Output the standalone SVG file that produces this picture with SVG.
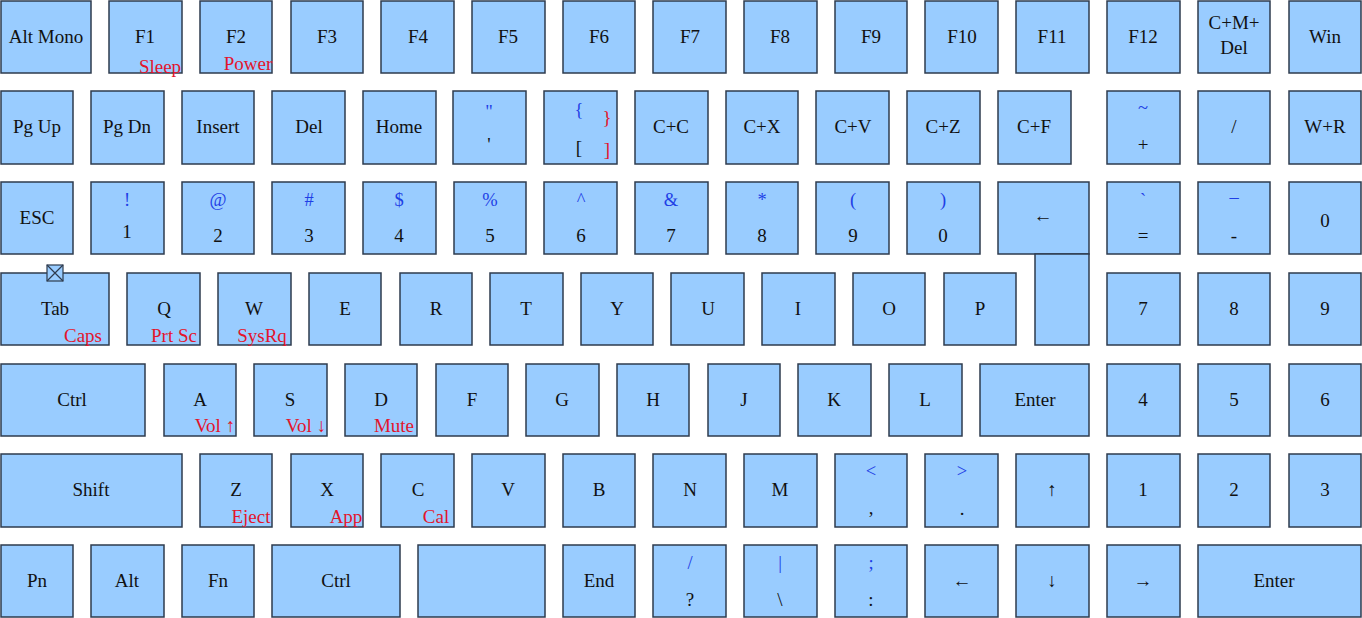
<svg xmlns="http://www.w3.org/2000/svg" width="1362" height="618" viewBox="0 0 1362 618">
<style>
.k{fill:#99ccff;stroke:#2e3b4e;stroke-width:1.5}
text{font-family:"Liberation Serif","Times New Roman",serif;text-anchor:middle}
.m{font-size:19px;fill:#111}
.b{font-size:18.5px;fill:#1f3fe6}
.r{font-size:19px;fill:#e3142c}
.ic{fill:#99ccff;stroke:#2e3b4e;stroke-width:1.2}
</style>
<rect width="1362" height="618" fill="#ffffff"/>
<!-- Row 1 -->
<g id="k-altmono"><rect class="k" x="1" y="1" width="90" height="72"/><text class="m" x="46" y="43">Alt Mono</text></g>
<g id="k-f1"><rect class="k" x="109" y="1" width="73" height="72"/><text class="m" x="145" y="43">F1</text><text class="r" x="160" y="73">Sleep</text></g>
<g id="k-f2"><rect class="k" x="200" y="1" width="72" height="72"/><text class="m" x="236" y="43">F2</text><text class="r" x="248" y="70">Power</text></g>
<g id="k-f3"><rect class="k" x="291" y="1" width="72" height="72"/><text class="m" x="327" y="43">F3</text></g>
<g id="k-f4"><rect class="k" x="381" y="1" width="73" height="72"/><text class="m" x="418" y="43">F4</text></g>
<g id="k-f5"><rect class="k" x="472" y="1" width="73" height="72"/><text class="m" x="508" y="43">F5</text></g>
<g id="k-f6"><rect class="k" x="563" y="1" width="72" height="72"/><text class="m" x="599" y="43">F6</text></g>
<g id="k-f7"><rect class="k" x="653" y="1" width="73" height="72"/><text class="m" x="690" y="43">F7</text></g>
<g id="k-f8"><rect class="k" x="744" y="1" width="73" height="72"/><text class="m" x="780" y="43">F8</text></g>
<g id="k-f9"><rect class="k" x="835" y="1" width="72" height="72"/><text class="m" x="871" y="43">F9</text></g>
<g id="k-f10"><rect class="k" x="925" y="1" width="73" height="72"/><text class="m" x="962" y="43">F10</text></g>
<g id="k-f11"><rect class="k" x="1016" y="1" width="73" height="72"/><text class="m" x="1052" y="43">F11</text></g>
<g id="k-f12"><rect class="k" x="1107" y="1" width="73" height="72"/><text class="m" x="1143" y="43">F12</text></g>
<g id="k-cmd"><rect class="k" x="1198" y="1" width="72" height="72"/><text class="m" x="1234" y="29">C+M+</text><text class="m" x="1234" y="54">Del</text></g>
<g id="k-win"><rect class="k" x="1289" y="1" width="72" height="72"/><text class="m" x="1325" y="43">Win</text></g>
<!-- Row 2 -->
<g id="k-pgup"><rect class="k" x="1" y="91" width="72" height="73"/><text class="m" x="37" y="133">Pg Up</text></g>
<g id="k-pgdn"><rect class="k" x="91" y="91" width="73" height="73"/><text class="m" x="127" y="133">Pg Dn</text></g>
<g id="k-insert"><rect class="k" x="182" y="91" width="72" height="73"/><text class="m" x="218" y="133">Insert</text></g>
<g id="k-del"><rect class="k" x="272" y="91" width="73" height="73"/><text class="m" x="309" y="133">Del</text></g>
<g id="k-home"><rect class="k" x="363" y="91" width="73" height="73"/><text class="m" x="399" y="133">Home</text></g>
<g id="k-quote"><rect class="k" x="453" y="91" width="73" height="73"/><text class="b" x="489" y="118">"</text><text class="m" x="489" y="151">'</text></g>
<g id="k-bracket"><rect class="k" x="544" y="91" width="73" height="73"/><text class="b" x="579" y="116">{</text><text class="m" x="579" y="154">[</text><text class="r" x="607" y="124">}</text><text class="r" x="607" y="156">]</text></g>
<g id="k-cc"><rect class="k" x="635" y="91" width="73" height="73"/><text class="m" x="671" y="133">C+C</text></g>
<g id="k-cx"><rect class="k" x="726" y="91" width="72" height="73"/><text class="m" x="762" y="133">C+X</text></g>
<g id="k-cv"><rect class="k" x="816" y="91" width="73" height="73"/><text class="m" x="853" y="133">C+V</text></g>
<g id="k-cz"><rect class="k" x="907" y="91" width="73" height="73"/><text class="m" x="943" y="133">C+Z</text></g>
<g id="k-cf"><rect class="k" x="998" y="91" width="73" height="73"/><text class="m" x="1034" y="133">C+F</text></g>
<g id="k-tilde"><rect class="k" x="1107" y="91" width="73" height="73"/><text class="b" x="1143" y="114">~</text><text class="m" x="1143" y="151">+</text></g>
<g id="k-slash"><rect class="k" x="1198" y="91" width="72" height="73"/><text class="m" x="1234" y="133">/</text></g>
<g id="k-wr"><rect class="k" x="1289" y="91" width="72" height="73"/><text class="m" x="1325" y="133">W+R</text></g>
<!-- Row 3 -->
<g id="k-esc"><rect class="k" x="1" y="182" width="72" height="72"/><text class="m" x="37" y="224">ESC</text></g>
<g id="k-1"><rect class="k" x="91" y="182" width="73" height="72"/><text class="b" x="127" y="206">!</text><text class="m" x="127" y="238">1</text></g>
<g id="k-2"><rect class="k" x="182" y="182" width="72" height="72"/><text class="b" x="218" y="206">@</text><text class="m" x="218" y="242">2</text></g>
<g id="k-3"><rect class="k" x="272" y="182" width="73" height="72"/><text class="b" x="309" y="206">#</text><text class="m" x="309" y="242">3</text></g>
<g id="k-4"><rect class="k" x="363" y="182" width="73" height="72"/><text class="b" x="399" y="206">$</text><text class="m" x="399" y="242">4</text></g>
<g id="k-5"><rect class="k" x="454" y="182" width="72" height="72"/><text class="b" x="490" y="206">%</text><text class="m" x="490" y="242">5</text></g>
<g id="k-6"><rect class="k" x="544" y="182" width="73" height="72"/><text class="b" x="581" y="206">^</text><text class="m" x="581" y="242">6</text></g>
<g id="k-7"><rect class="k" x="635" y="182" width="73" height="72"/><text class="b" x="671" y="206">&amp;</text><text class="m" x="671" y="242">7</text></g>
<g id="k-8"><rect class="k" x="726" y="182" width="72" height="72"/><text class="b" x="762" y="206">*</text><text class="m" x="762" y="242">8</text></g>
<g id="k-9"><rect class="k" x="816" y="182" width="73" height="72"/><text class="b" x="853" y="206">(</text><text class="m" x="853" y="242">9</text></g>
<g id="k-0"><rect class="k" x="907" y="182" width="73" height="72"/><text class="b" x="943" y="206">)</text><text class="m" x="943" y="242">0</text></g>
<g id="k-backspace"><rect class="k" x="998" y="182" width="91" height="72"/><text class="m" x="1043" y="222">←</text></g>
<g id="k-grave"><rect class="k" x="1107" y="182" width="73" height="72"/><text class="b" x="1143" y="206">`</text><text class="m" x="1143" y="242">=</text></g>
<g id="k-minus"><rect class="k" x="1198" y="182" width="72" height="72"/><text class="b" x="1234" y="197">_</text><text class="m" x="1234" y="242">-</text></g>
<g id="k-np0"><rect class="k" x="1289" y="182" width="72" height="72"/><text class="m" x="1325" y="227">0</text></g>
<!-- Row 4 -->
<g id="k-tab"><rect class="k" x="1" y="273" width="108" height="72"/><text class="m" x="55" y="315">Tab</text><text class="r" x="83" y="342">Caps</text>
<g id="tab-icon"><rect class="ic" x="47" y="265" width="16" height="16"/><path d="M47 265 L63 281 M63 265 L47 281" stroke="#2e3b4e" stroke-width="1.2" fill="none"/></g></g>
<g id="k-q"><rect class="k" x="127" y="273" width="73" height="72"/><text class="m" x="164" y="315">Q</text><text class="r" x="174" y="342">Prt Sc</text></g>
<g id="k-w"><rect class="k" x="218" y="273" width="73" height="72"/><text class="m" x="254" y="315">W</text><text class="r" x="262" y="342">SysRq</text></g>
<g id="k-e"><rect class="k" x="309" y="273" width="72" height="72"/><text class="m" x="345" y="315">E</text></g>
<g id="k-r"><rect class="k" x="400" y="273" width="72" height="72"/><text class="m" x="436" y="315">R</text></g>
<g id="k-t"><rect class="k" x="490" y="273" width="73" height="72"/><text class="m" x="526" y="315">T</text></g>
<g id="k-y"><rect class="k" x="581" y="273" width="72" height="72"/><text class="m" x="617" y="315">Y</text></g>
<g id="k-u"><rect class="k" x="671" y="273" width="73" height="72"/><text class="m" x="708" y="315">U</text></g>
<g id="k-i"><rect class="k" x="762" y="273" width="73" height="72"/><text class="m" x="798" y="315">I</text></g>
<g id="k-o"><rect class="k" x="853" y="273" width="72" height="72"/><text class="m" x="889" y="315">O</text></g>
<g id="k-p"><rect class="k" x="944" y="273" width="72" height="72"/><text class="m" x="980" y="315">P</text></g>
<g id="k-enter-upper"><rect class="k" x="1035" y="254" width="54" height="91"/></g>
<g id="k-np7"><rect class="k" x="1107" y="273" width="73" height="72"/><text class="m" x="1143" y="315">7</text></g>
<g id="k-np8"><rect class="k" x="1198" y="273" width="72" height="72"/><text class="m" x="1234" y="315">8</text></g>
<g id="k-np9"><rect class="k" x="1289" y="273" width="72" height="72"/><text class="m" x="1325" y="315">9</text></g>
<!-- Row 5 -->
<g id="k-ctrl"><rect class="k" x="1" y="364" width="144" height="72"/><text class="m" x="72" y="406">Ctrl</text></g>
<g id="k-a"><rect class="k" x="164" y="364" width="72" height="72"/><text class="m" x="200" y="406">A</text><text class="r" x="215" y="432">Vol ↑</text></g>
<g id="k-s"><rect class="k" x="254" y="364" width="73" height="72"/><text class="m" x="290" y="406">S</text><text class="r" x="306" y="432">Vol ↓</text></g>
<g id="k-d"><rect class="k" x="345" y="364" width="72" height="72"/><text class="m" x="381" y="406">D</text><text class="r" x="394" y="432">Mute</text></g>
<g id="k-f"><rect class="k" x="436" y="364" width="72" height="72"/><text class="m" x="472" y="406">F</text></g>
<g id="k-g"><rect class="k" x="526" y="364" width="73" height="72"/><text class="m" x="562" y="406">G</text></g>
<g id="k-h"><rect class="k" x="617" y="364" width="72" height="72"/><text class="m" x="653" y="406">H</text></g>
<g id="k-j"><rect class="k" x="708" y="364" width="72" height="72"/><text class="m" x="744" y="406">J</text></g>
<g id="k-k"><rect class="k" x="798" y="364" width="73" height="72"/><text class="m" x="834" y="406">K</text></g>
<g id="k-l"><rect class="k" x="889" y="364" width="73" height="72"/><text class="m" x="925" y="406">L</text></g>
<g id="k-enter"><rect class="k" x="980" y="364" width="109" height="72"/><text class="m" x="1035" y="406">Enter</text></g>
<g id="k-np4"><rect class="k" x="1107" y="364" width="73" height="72"/><text class="m" x="1143" y="406">4</text></g>
<g id="k-np5"><rect class="k" x="1198" y="364" width="72" height="72"/><text class="m" x="1234" y="406">5</text></g>
<g id="k-np6"><rect class="k" x="1289" y="364" width="72" height="72"/><text class="m" x="1325" y="406">6</text></g>
<!-- Row 6 -->
<g id="k-shift"><rect class="k" x="1" y="454" width="181" height="73"/><text class="m" x="91" y="496">Shift</text></g>
<g id="k-z"><rect class="k" x="200" y="454" width="72" height="73"/><text class="m" x="236" y="496">Z</text><text class="r" x="251" y="523">Eject</text></g>
<g id="k-x"><rect class="k" x="291" y="454" width="72" height="73"/><text class="m" x="327" y="496">X</text><text class="r" x="346" y="523">App</text></g>
<g id="k-c"><rect class="k" x="381" y="454" width="73" height="73"/><text class="m" x="418" y="496">C</text><text class="r" x="436" y="523">Cal</text></g>
<g id="k-v"><rect class="k" x="472" y="454" width="73" height="73"/><text class="m" x="508" y="496">V</text></g>
<g id="k-b"><rect class="k" x="563" y="454" width="72" height="73"/><text class="m" x="599" y="496">B</text></g>
<g id="k-n"><rect class="k" x="653" y="454" width="73" height="73"/><text class="m" x="690" y="496">N</text></g>
<g id="k-m"><rect class="k" x="744" y="454" width="73" height="73"/><text class="m" x="780" y="496">M</text></g>
<g id="k-comma"><rect class="k" x="835" y="454" width="72" height="73"/><text class="b" x="871" y="477">&lt;</text><text class="m" x="871" y="514">,</text></g>
<g id="k-period"><rect class="k" x="925" y="454" width="73" height="73"/><text class="b" x="962" y="477">&gt;</text><text class="m" x="962" y="515">.</text></g>
<g id="k-up"><rect class="k" x="1016" y="454" width="73" height="73"/><text class="m" x="1052" y="496">↑</text></g>
<g id="k-np1"><rect class="k" x="1107" y="454" width="73" height="73"/><text class="m" x="1143" y="496">1</text></g>
<g id="k-np2"><rect class="k" x="1198" y="454" width="72" height="73"/><text class="m" x="1234" y="496">2</text></g>
<g id="k-np3"><rect class="k" x="1289" y="454" width="72" height="73"/><text class="m" x="1325" y="496">3</text></g>
<!-- Row 7 -->
<g id="k-pn"><rect class="k" x="1" y="545" width="72" height="72"/><text class="m" x="37" y="587">Pn</text></g>
<g id="k-alt"><rect class="k" x="91" y="545" width="73" height="72"/><text class="m" x="127" y="587">Alt</text></g>
<g id="k-fn"><rect class="k" x="182" y="545" width="72" height="72"/><text class="m" x="218" y="587">Fn</text></g>
<g id="k-ctrl2"><rect class="k" x="272" y="545" width="128" height="72"/><text class="m" x="336" y="587">Ctrl</text></g>
<g id="k-space"><rect class="k" x="418" y="545" width="127" height="72"/></g>
<g id="k-end"><rect class="k" x="563" y="545" width="72" height="72"/><text class="m" x="599" y="587">End</text></g>
<g id="k-question"><rect class="k" x="653" y="545" width="73" height="72"/><text class="b" x="690" y="569">/</text><text class="m" x="690" y="606">?</text></g>
<g id="k-backslash"><rect class="k" x="744" y="545" width="73" height="72"/><text class="b" x="780" y="569">|</text><text class="m" x="780" y="606">\</text></g>
<g id="k-semicolon"><rect class="k" x="835" y="545" width="72" height="72"/><text class="b" x="871" y="569">;</text><text class="m" x="871" y="606">:</text></g>
<g id="k-left"><rect class="k" x="925" y="545" width="73" height="72"/><text class="m" x="962" y="587">←</text></g>
<g id="k-down"><rect class="k" x="1016" y="545" width="73" height="72"/><text class="m" x="1052" y="587">↓</text></g>
<g id="k-right"><rect class="k" x="1107" y="545" width="73" height="72"/><text class="m" x="1143" y="587">→</text></g>
<g id="k-npenter"><rect class="k" x="1198" y="545" width="163" height="72"/><text class="m" x="1274" y="587">Enter</text></g>
<g id="connectors"></g>
</svg>
